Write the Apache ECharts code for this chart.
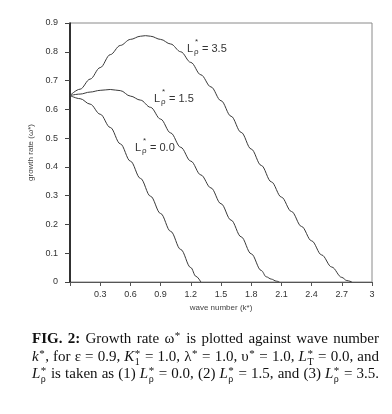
<!DOCTYPE html>
<html><head><meta charset="utf-8">
<script src="https://cdn.jsdelivr.net/npm/echarts@6/dist/echarts.min.js"></script>
<style>html,body{margin:0;padding:0;background:#fff}#c{width:392px;height:414px}</style>
</head><body><div id="c"></div>
<script>
// ---- data ----
const kL00 = [0, 0.1, 0.2, 0.3, 0.4, 0.5, 0.6, 0.7, 0.8, 0.9, 1.0, 1.1, 1.2, 1.25, 1.3];
const wL00 = [0.648, 0.637, 0.618, 0.583, 0.537, 0.48, 0.42, 0.36, 0.298, 0.238, 0.176, 0.113, 0.05, 0.02, 0];
const kL15 = [0, 0.1, 0.2, 0.3, 0.4, 0.5, 0.6, 0.7, 0.8, 0.9, 1.0, 1.1, 1.2, 1.3, 1.4, 1.5, 1.6, 1.7, 1.8, 1.9, 1.95, 2.0, 2.05, 2.08];
const wL15 = [0.648, 0.653, 0.66, 0.666, 0.669, 0.665, 0.646, 0.632, 0.607, 0.566, 0.518, 0.468, 0.42, 0.372, 0.327, 0.272, 0.215, 0.157, 0.098, 0.04, 0.018, 0.01, 0.003, 0];
const kL35 = [0, 0.1, 0.2, 0.3, 0.4, 0.5, 0.6, 0.7, 0.75, 0.8, 0.9, 1.0, 1.1, 1.2, 1.3, 1.4, 1.5, 1.6, 1.7, 1.8, 1.9, 2.0, 2.1, 2.2, 2.3, 2.4, 2.5, 2.6, 2.7, 2.75, 2.8];
const wL35 = [0.648, 0.67, 0.705, 0.745, 0.79, 0.822, 0.843, 0.854, 0.856, 0.854, 0.843, 0.827, 0.8, 0.763, 0.72, 0.678, 0.63, 0.576, 0.52, 0.462, 0.405, 0.348, 0.295, 0.245, 0.193, 0.143, 0.094, 0.052, 0.016, 0.005, 0];
const xTickLabels = ['', '0.3', '0.6', '0.9', '1.2', '1.5', '1.8', '2.1', '2.4', '2.7', '3'];
const yTickLabels = ['0', '0.1', '0.2', '0.3', '0.4', '0.5', '0.6', '0.7', '0.8', '0.9'];
const curveNames = ['3.5', '1.5', '0.0'];

const pairs = (k, w) => k.map((v, i) => [v, w[i]]);
const chart = echarts.init(document.getElementById('c'), null, {renderer: 'canvas'});

const lineStyle = {color: '#3a3a3a', width: 1};
function mkSeries(k, w) {
  return {type: 'line', data: pairs(k, w), showSymbol: false, smooth: 0.35, smoothMonotone: 'x',
          lineStyle: lineStyle, silent: true, animation: false};
}

// ---- curve labels ----
const AF = '"Liberation Sans", Arial, sans-serif';
function curveLabel(x, y, val) {
  return {type: 'group', children: [
    {type: 'text', x: x, y: y, style: {text: 'L', font: '11px ' + AF, fill: '#333', align: 'left', verticalAlign: 'middle'}},
    {type: 'text', x: x + 7, y: y + 3, style: {text: 'ρ', font: '8px ' + AF, fill: '#333', align: 'left', verticalAlign: 'middle'}},
    {type: 'text', x: x + 8, y: y - 7, style: {text: '*', font: '8px ' + AF, fill: '#333', align: 'left', verticalAlign: 'middle'}},
    {type: 'text', x: x + 15, y: y, style: {text: '= ' + val, font: '11px ' + AF, fill: '#333', align: 'left', verticalAlign: 'middle'}}
  ]};
}

// ---- caption layout ----
const SF = '"Liberation Serif", "Times New Roman", serif';
const FS = 15;
const fonts = {
  r: FS + 'px ' + SF, b: 'bold ' + FS + 'px ' + SF, i: 'italic ' + FS + 'px ' + SF,
  sup: '11px ' + SF, sub: '10px ' + SF
};
const cv = document.createElement('canvas').getContext('2d');
function mw(t, f) { cv.font = f; return cv.measureText(t).width; }
function parseWord(word) {
  const re = /\{(b|i|\^|_|s):([^}]*)\}|([^{]+)/g; let m; const out = [];
  while ((m = re.exec(word))) {
    if (m[3]) out.push({k: 'r', t: m[3]});
    else out.push({k: m[1], t: m[2]});
  }
  return out;
}
function pieceWidth(p) {
  if (p.k === 'r' || p.k === 'b' || p.k === 'i') return mw(p.t, fonts[p.k]);
  if (p.k === '^') return mw(p.t, fonts.sup) + 1;
  if (p.k === '_') return mw(p.t, fonts.sub) + 1;
  if (p.k === 's') return Math.max(mw('*', fonts.sup), mw(p.t, fonts.sub)) + 1;
}
const captionLines = [
  '{b:FIG.} {b:2:} Growth rate ω{^:*} is plotted against wave number',
  '{i:k}{^:*}, for ε = 0.9, {i:K}{s:1} = 1.0, λ{^:*} = 1.0, υ{^:*} = 1.0, {i:L}{s:T} = 0.0, and',
  '{i:L}{s:ρ} is taken as (1) {i:L}{s:ρ} = 0.0, (2) {i:L}{s:ρ} = 1.5, and (3) {i:L}{s:ρ} = 3.5.'
];
const capLeft = 32, capRight = 379, capY = [339, 357, 374.5];
const captionEls = [];
captionLines.forEach((line, li) => {
  const words = line.split(' ').map(parseWord);
  const widths = words.map(ps => ps.reduce((s, p) => s + pieceWidth(p), 0));
  const tot = widths.reduce((a, b) => a + b, 0);
  const gap = (capRight - capLeft - tot) / (words.length - 1);
  let x = capLeft; const y = capY[li];
  words.forEach((ps, wi) => {
    ps.forEach(p => {
      const w = pieceWidth(p);
      if (p.k === 'r' || p.k === 'b' || p.k === 'i') {
        captionEls.push({type: 'text', x: x, y: y, style: {text: p.t, font: fonts[p.k], fill: '#111', align: 'left', verticalAlign: 'middle'}});
      } else if (p.k === '^') {
        captionEls.push({type: 'text', x: x + 0.5, y: y - 3, style: {text: p.t, font: fonts.sup, fill: '#111', align: 'left', verticalAlign: 'middle'}});
      } else if (p.k === '_') {
        captionEls.push({type: 'text', x: x + 0.5, y: y + 4, style: {text: p.t, font: fonts.sub, fill: '#111', align: 'left', verticalAlign: 'middle'}});
      } else if (p.k === 's') {
        captionEls.push({type: 'text', x: x + 0.5, y: y - 3, style: {text: '*', font: fonts.sup, fill: '#111', align: 'left', verticalAlign: 'middle'}});
        captionEls.push({type: 'text', x: x + 0.5, y: y + 5, style: {text: p.t, font: fonts.sub, fill: '#111', align: 'left', verticalAlign: 'middle'}});
      }
      x += w;
    });
    x += gap;
  });
});

const tickFmt = (labels, step) => v => { const i = Math.round(v / step); return labels[i] !== undefined ? labels[i] : ''; };

chart.setOption({
  animation: false,
  backgroundColor: '#fff',
  grid: {left: 70, right: 20, top: 23, bottom: 132, show: true, borderColor: '#8a8a8a', borderWidth: 1, backgroundColor: 'transparent'},
  xAxis: {
    type: 'value', min: 0, max: 3, interval: 0.3,
    name: 'wave number (k*)', nameLocation: 'middle', nameGap: 20,
    nameTextStyle: {fontFamily: AF, fontSize: 8, color: '#444'},
    axisLine: {show: true, lineStyle: {color: '#555', width: 1}},
    axisTick: {show: true, inside: false, length: 4, lineStyle: {color: '#555'}},
    axisLabel: {fontFamily: AF, fontSize: 9, color: '#333', margin: 8, formatter: tickFmt(xTickLabels, 0.3)},
    splitLine: {show: false}
  },
  yAxis: {
    type: 'value', min: 0, max: 0.9, interval: 0.1,
    name: 'growth rate (ω*)', nameLocation: 'middle', nameGap: 26,
    nameTextStyle: {fontFamily: AF, fontSize: 8, color: '#444'},
    axisLine: {show: true, lineStyle: {color: '#000', width: 1.5}},
    axisTick: {show: true, inside: false, length: 5, lineStyle: {color: '#444'}},
    axisLabel: {fontFamily: AF, fontSize: 9, color: '#333', margin: 12, formatter: tickFmt(yTickLabels, 0.1)},
    splitLine: {show: false}
  },
  series: [mkSeries(kL35, wL35), mkSeries(kL15, wL15), mkSeries(kL00, wL00)],
  graphic: [
    curveLabel(187, 49, curveNames[0]),
    curveLabel(154, 99, curveNames[1]),
    curveLabel(135, 148, curveNames[2])
  ].concat(captionEls)
});
</script></body></html>
